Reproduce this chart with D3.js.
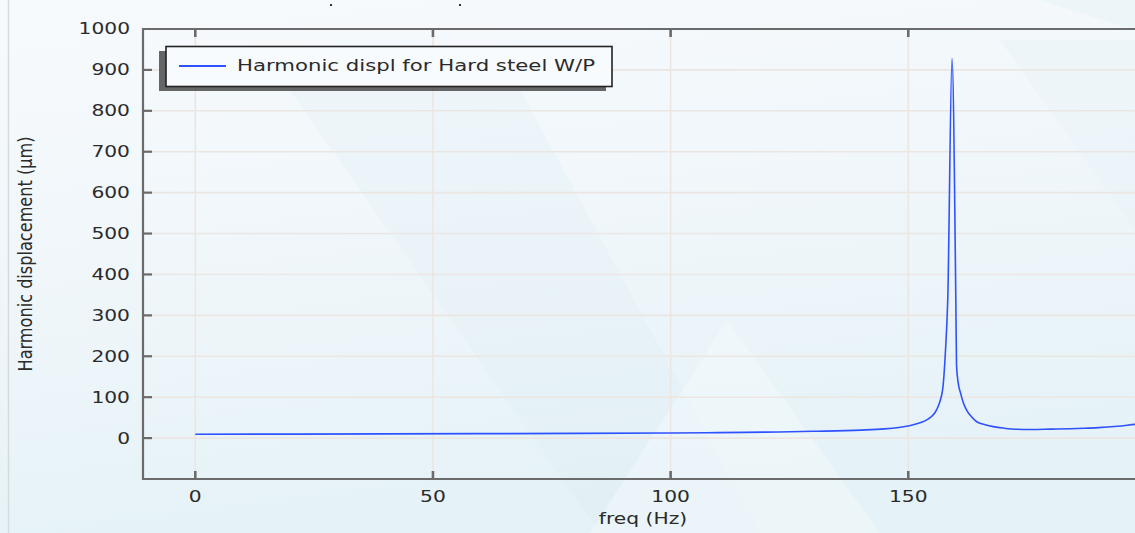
<!DOCTYPE html>
<html><head><meta charset="utf-8">
<script src="https://cdn.jsdelivr.net/npm/d3@7"></script>
<style>html,body{margin:0;padding:0;overflow:hidden;background:#eef6fa}</style>
</head><body>
<svg id="c" width="1135" height="533"></svg>
<script>
// ---- data ----
const freq = [0, 20, 40, 60, 80, 100, 110, 120, 130, 140, 145, 148, 150, 151.8, 153.5, 154.6, 155.6, 156.3, 156.8, 157.3, 157.8, 158.3, 159.2, 160.0, 160.15, 160.5, 161, 161.6, 162.3, 163.3, 164.4, 166, 167.9, 170, 172.8, 176, 180, 184, 187, 190, 194, 198, 200];
const disp = [9.5, 9.7, 10.2, 10.8, 11.5, 12.4, 13.3, 14.6, 16.6, 19.5, 22.5, 26, 29.5, 35, 42, 50, 62, 78, 95, 125, 208, 337, 928, 340, 178, 135, 110, 86, 68, 52, 40, 33, 28, 24.5, 21.5, 21, 22, 23, 24, 25.5, 29, 34, 36];
const xTicks = [0, 50, 100, 150];
const yTicks = [0, 100, 200, 300, 400, 500, 600, 700, 800, 900, 1000];
const seriesName = "Harmonic displ for Hard steel W/P";
const xTitle = "freq (Hz)";
const yTitle = "Harmonic displacement (\u00b5m)";

const svg = d3.select("#c");
const W = 1135, H = 533;
const SX = 1.35; // horizontal stretch of the text in the picture

// background
const defs = svg.append("defs");
const bg = defs.append("linearGradient").attr("id","bg").attr("x1",0).attr("y1",0).attr("x2",0.25).attr("y2",1);
bg.append("stop").attr("offset","0").attr("stop-color","#f7fafd");
bg.append("stop").attr("offset","0.55").attr("stop-color","#eff6fa");
bg.append("stop").attr("offset","1").attr("stop-color","#e5f2f7");
svg.append("rect").attr("width",W).attr("height",H).attr("fill","url(#bg)");
const shapes = [
  {pts:[[290,90],[520,90],[760,533],[600,533]], c:"#dcedf4", o:0.25},
  {pts:[[727,320],[880,533],[590,533]], c:"#f4f9fc", o:0.5},
  {pts:[[1000,40],[1135,40],[1135,230]], c:"#e4f1f5", o:0.35},
  {pts:[[1040,0],[1135,0],[1135,30]], c:"#e6f2f6", o:0.5}
];
shapes.forEach(s => svg.append("polygon").attr("points", s.pts.map(p=>p.join(",")).join(" ")).attr("fill", s.c).attr("opacity", s.o));
svg.append("line").attr("x1",8.5).attr("x2",8.5).attr("y1",0).attr("y2",H).attr("stroke","#d6dadd").attr("stroke-width",1.5);
// tiny marks at the top
[330, 459].forEach(px => svg.append("rect").attr("x",px).attr("y",4).attr("width",2).attr("height",2).attr("fill","#333"));

// scales
const x = d3.scaleLinear().domain([-11, 200]).range([143, 143 + 211 * 4.7533]);
const y = d3.scaleLinear().domain([-100, 1000]).range([479, 29]);
const x0 = x.range()[0], x1 = W + 5, yB = y.range()[0], yT = y.range()[1];

// grid
const grid = svg.append("g").attr("stroke","#ece6e2").attr("stroke-width",1.6);
xTicks.forEach(t => grid.append("line").attr("x1",x(t)).attr("x2",x(t)).attr("y1",yT).attr("y2",yB));
yTicks.filter(t=>t<1000).forEach(t => grid.append("line").attr("x1",x0).attr("x2",x1).attr("y1",y(t)).attr("y2",y(t)));

// curve
svg.append("path").datum(d3.zip(freq, disp))
  .attr("fill","none").attr("stroke","#2f52ff").attr("stroke-width",1.6).attr("stroke-linejoin","round")
  .attr("d", d3.line().curve(d3.curveMonotoneX).x(d=>x(d[0])).y(d=>y(d[1])));

// axes frame
const ax = svg.append("g").attr("stroke","#6b6b6b").attr("stroke-width",2.2).attr("fill","none");
ax.append("line").attr("x1",x0).attr("x2",x0).attr("y1",yT).attr("y2",yB+1);
ax.append("line").attr("x1",x0-1).attr("x2",x1).attr("y1",yB).attr("y2",yB);
ax.append("line").attr("x1",x0-1).attr("x2",x1).attr("y1",yT).attr("y2",yT);
yTicks.filter(t=>t<1000).forEach(t => ax.append("line").attr("x1",x0).attr("x2",x0+9).attr("y1",y(t)).attr("y2",y(t)));
xTicks.forEach(t => {
  ax.append("line").attr("x1",x(t)).attr("x2",x(t)).attr("y1",yB).attr("y2",yB-8).attr("stroke-width",2.6);
  ax.append("line").attr("x1",x(t)).attr("x2",x(t)).attr("y1",yT).attr("y2",yT+8).attr("stroke-width",2.6);
});

// text helper: stretched text
function stext(px, py, str, anchor, size) {
  return svg.append("text").attr("transform",`translate(${px},${py}) scale(${SX},1)`)
    .attr("text-anchor",anchor).attr("dominant-baseline","central")
    .attr("font-family","DejaVu Sans").attr("font-size",size).attr("fill","#2b2b2b").text(str);
}
yTicks.forEach(t => stext(130, y(t), d3.format("d")(t), "end", 15));
xTicks.forEach(t => stext(x(t), 497, d3.format("d")(t), "middle", 15));
stext(643, 519, xTitle, "middle", 15);
svg.append("text").attr("transform",`translate(25,254) rotate(-90) scale(1,${SX})`)
  .attr("text-anchor","middle").attr("dominant-baseline","central")
  .attr("font-family","DejaVu Sans").attr("font-size",15).attr("fill","#2b2b2b")
  .attr("textLength",235).attr("lengthAdjust","spacingAndGlyphs").text(yTitle);

// legend
const lg = svg.append("g");
lg.append("rect").attr("x",159).attr("y",51).attr("width",447).attr("height",40).attr("fill","#555").attr("opacity",0.9);
lg.append("rect").attr("x",166).attr("y",46.5).attr("width",446).attr("height",40).attr("fill","#f8fbfd").attr("stroke","#222").attr("stroke-width",1.6);
lg.append("line").attr("x1",179).attr("x2",226).attr("y1",66).attr("y2",66).attr("stroke","#2f52ff").attr("stroke-width",1.8);
lg.append("text").attr("x",237).attr("y",66).attr("dominant-baseline","central")
  .attr("font-family","DejaVu Sans").attr("font-size",15.5).attr("fill","#2b2b2b")
  .attr("textLength",358).attr("lengthAdjust","spacingAndGlyphs").text(seriesName);
</script>
</body></html>
